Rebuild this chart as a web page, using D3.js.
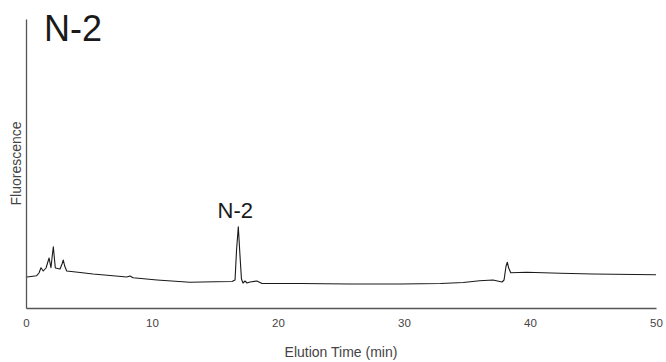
<!DOCTYPE html>
<html>
<head>
<meta charset="utf-8">
<script src="https://cdn.jsdelivr.net/npm/d3@7"></script>
<style>
  body { margin: 0; background: #fff; }
  text { font-family: "Liberation Sans", Arial, sans-serif; }
</style>
</head>
<body>
<div id="chart"></div>
<script>
// elution time (min) of each trace point
var times = [0.08, 0.85, 1.03, 1.19, 1.37, 1.59, 1.83, 1.98, 2.09, 2.17, 2.25, 2.33,
    2.70, 2.86, 2.96, 3.07, 3.23, 4.13, 5.32, 6.67, 8.0, 8.25, 8.5, 10.4, 13.0,
    15.0, 16.35, 16.59, 16.71, 16.85, 16.98, 17.1, 17.22, 17.38, 17.54, 17.78,
    18.33, 18.73, 21.75, 25.7, 29.7, 32.9, 34.7, 36.0, 37.06, 37.78, 37.94, 38.1,
    38.2, 38.31, 38.47, 39.74, 42.4, 45.0, 50.0];
// fluorescence (arbitrary units)
var signal = [31, 32.3, 35, 40.3, 37, 40, 50, 40.3, 53, 61.3, 50, 40,
    39, 44, 48, 42, 37, 35.7, 34, 32.5, 31, 32, 30.2, 28, 25.7,
    26.2, 26.5, 28, 58, 81.3, 53, 29, 25, 27, 25, 26,
    27, 24.5, 24.5, 24, 24, 24.5, 25.5, 27.3, 28, 26, 28, 42,
    45.7, 40, 35.3, 35.7, 34.7, 34, 33.3];
var xTicks = [0, 10, 20, 30, 40, 50];
var peakName = "N-2";
var peakTime = 16.85;
var peakSignal = 81.3;

var width = 666, height = 362;
var margin = {top: 19, right: 10, bottom: 54, left: 26};

var svg = d3.select("#chart")
    .append("svg")
    .attr("width", width)
    .attr("height", height);

var x = d3.scaleLinear().domain([0, 50]).range([margin.left, width - margin.right]);
var y = d3.scaleLinear().domain([0, 289]).range([height - margin.bottom, margin.top]);

var pts = times.map(function (t, i) { return {t: t, v: signal[i]}; });

// x axis
var xAxis = svg.append("g")
    .attr("transform", "translate(0," + y(0) + ")")
    .call(d3.axisBottom(x).tickValues(xTicks).tickSize(0).tickPadding(11));
xAxis.select(".domain").attr("stroke", "#555").attr("stroke-width", 1.3);
xAxis.selectAll("text").attr("fill", "#444").attr("font-size", "11.5px")
    .attr("font-family", "Liberation Sans, Arial, sans-serif");

// y axis, no ticks
var yAxis = svg.append("g")
    .attr("transform", "translate(" + x(0) + ",0)")
    .call(d3.axisLeft(y).tickValues([]).tickSizeOuter(0));
yAxis.select(".domain").attr("stroke", "#555").attr("stroke-width", 1.3);

// trace
var line = d3.line()
    .x(function (d) { return x(d.t); })
    .y(function (d) { return y(d.v); });
svg.append("path")
    .datum(pts)
    .attr("d", line)
    .attr("fill", "none")
    .attr("stroke", "#1a1a1a")
    .attr("stroke-width", 1.1)
    .attr("stroke-linejoin", "round");

// peak label
svg.append("text")
    .attr("x", x(peakTime) - 3)
    .attr("y", y(peakSignal) - 9)
    .attr("text-anchor", "middle")
    .attr("font-size", "22px")
    .attr("fill", "#1a1a1a")
    .text(peakName);

// panel title
svg.append("text")
    .attr("x", 44)
    .attr("y", 41)
    .attr("font-size", "36px")
    .attr("fill", "#1a1a1a")
    .text("N-2");

// axis titles
svg.append("text")
    .attr("x", (x(0) + x(50)) / 2)
    .attr("y", 357)
    .attr("text-anchor", "middle")
    .attr("font-size", "14px")
    .attr("fill", "#444")
    .text("Elution Time (min)");

svg.append("text")
    .attr("transform", "translate(21," + (y(0) + y(289)) / 2 + ") rotate(-90)")
    .attr("text-anchor", "middle")
    .attr("font-size", "14px")
    .attr("fill", "#444")
    .text("Fluorescence");
</script>
</body>
</html>
